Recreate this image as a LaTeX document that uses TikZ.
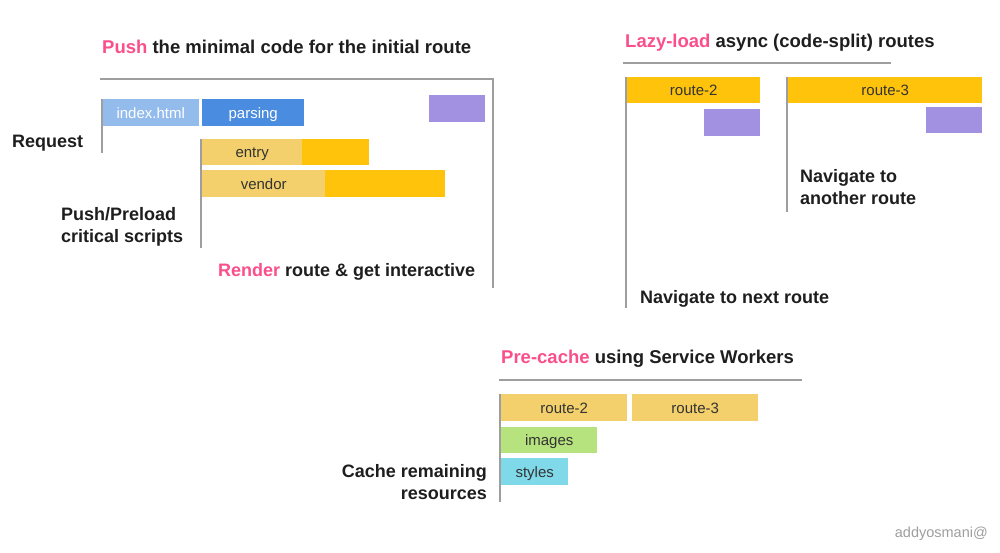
\documentclass[tikz,border=0pt]{standalone}
\usepackage{fontspec}
\setmainfont{Liberation Sans}
\definecolor{pushpink}{HTML}{FA4F8A}
\definecolor{inkblack}{HTML}{1E1E1E}
\definecolor{labelgray}{HTML}{333333}
\definecolor{rulegray}{HTML}{9E9E9E}
\definecolor{htmlblue}{HTML}{93BBEC}
\definecolor{parseblue}{HTML}{4A8CDF}
\definecolor{lightamber}{HTML}{F3D06C}
\definecolor{amber}{HTML}{FFC30B}
\definecolor{execpurple}{HTML}{A191E0}
\definecolor{imggreen}{HTML}{B6E37D}
\definecolor{stylecyan}{HTML}{7FD9E9}
\begin{document}
\begin{tikzpicture}[x=1pt,y=-1pt,
		every node/.style={inner sep=0pt},
		bar/.style={anchor=north west,minimum height=27pt,text height=11pt,text depth=0pt,font=\fontsize{15}{18}\selectfont,text=labelgray},
		head/.style={anchor=base west,font=\bfseries\fontsize{18.5}{22}\selectfont,text=inkblack},
		note/.style={anchor=base west,align=left,font=\bfseries\fontsize{18}{22}\selectfont,text=inkblack},
		rule/.style={draw=rulegray,line width=2pt}]
	\useasboundingbox[fill=white] (0,0) rectangle (1000,553);
	% initial route
	\node[head] (pushhead) at (102,54) {\textcolor{pushpink}{Push} the minimal code for the initial route};
	\coordinate (pushcorner) at (493,79);
	\draw[rule] (100,79) -- (pushcorner) -- ++(0,209);
	\node[bar,fill=htmlblue,text=white,minimum width=97pt] (index) at (102,99) {index.html};
	\node[bar,fill=parseblue,text=white,minimum width=102pt] (parsing) at (202,99) {parsing};
	\node[bar,fill=execpurple,minimum width=56pt] (exec1) at (429,95) {};
	\draw[rule] (index.north west) -- ++(0,54);
	\node[bar,fill=amber,minimum width=167pt,minimum height=26pt] (entrytail) at (202,139) {};
	\node[bar,fill=lightamber,minimum width=100pt,minimum height=26pt] (entry) at (202,139) {entry};
	\node[bar,fill=amber,minimum width=243pt] (vendortail) at (202,170) {};
	\node[bar,fill=lightamber,minimum width=123pt] (vendor) at (202,170) {vendor};
	\draw[rule] (entry.north west) ++(-1,0) -- ++(0,109);
	\node[note] (request) at (12,148) {Request};
	\node[note] (preload) at (61,243) {Push/Preload\\critical scripts};
	\node[note] (render) at (218,276) {\textcolor{pushpink}{Render} route \& get interactive};
	% lazy routes
	\node[head] (lazyhead) at (625,48) {\textcolor{pushpink}{Lazy-load} async (code-split) routes};
	\draw[rule] (623,63) -- (891,63);
	\node[bar,fill=amber,minimum width=133pt,minimum height=26pt] (lazy2) at (627,77) {route-2};
	\node[bar,fill=execpurple,minimum width=56pt] (exec2) at (704,109) {};
	\node[bar,fill=amber,minimum width=194pt,minimum height=26pt] (lazy3) at (788,77) {route-3};
	\node[bar,fill=execpurple,minimum width=56pt,minimum height=26pt] (exec3) at (926,107) {};
	\draw[rule] (lazy2.north west) ++(-1,0) -- ++(0,231);
	\draw[rule] (lazy3.north west) ++(-1,0) -- ++(0,135);
	\node[note] (another) at (800,205) {Navigate to\\another route};
	\node[note] (nextroute) at (640,303) {Navigate to next route};
	% service worker
	\node[head] (cachehead) at (501,363) {\textcolor{pushpink}{Pre-cache} using Service Workers};
	\draw[rule] (499,380) -- (802,380);
	\node[bar,fill=lightamber,minimum width=126pt] (cache2) at (501,394) {route-2};
	\node[bar,fill=lightamber,minimum width=126pt] (cache3) at (632,394) {route-3};
	\node[bar,fill=imggreen,minimum width=96pt,minimum height=26pt] (images) at (501,427) {images};
	\node[bar,fill=stylecyan,minimum width=67pt] (styles) at (501,458) {styles};
	\draw[rule] (cache2.north west) ++(-1,0) -- ++(0,108);
	\node[note,anchor=base east,align=right] (remaining) at (487,499) {Cache remaining\\resources};
	\node[anchor=base east,font=\fontsize{14.5}{17}\selectfont,text=rulegray] (credit) at (988,537) {addyosmani@};
\end{tikzpicture}
\end{document}
